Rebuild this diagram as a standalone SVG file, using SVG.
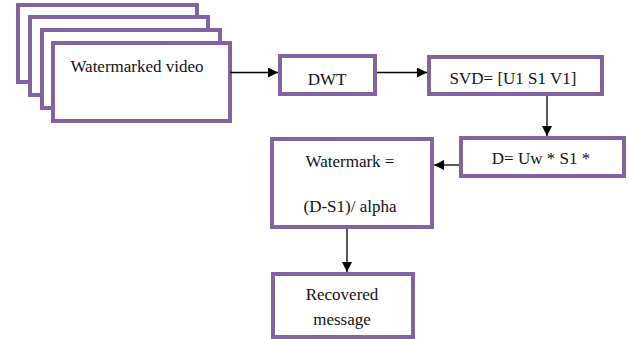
<svg xmlns="http://www.w3.org/2000/svg" width="628" height="339" viewBox="0 0 628 339">
  <defs>
    <marker id="arrow" viewBox="0 0 10 10" refX="10" refY="5" markerWidth="10" markerHeight="10" markerUnits="userSpaceOnUse" orient="auto">
      <path d="M0,0 L10,5 L0,10 z" fill="#000"/>
    </marker>
  </defs>
  <style>
    .box { fill: #fff; stroke: #8064A2; stroke-width: 4; }
    .lbl { font-family: "Liberation Serif", "Times New Roman", serif; font-size: 17px; fill: #111; text-anchor: middle; }
    .con { stroke: #000; stroke-width: 1.3; fill: none; marker-end: url(#arrow); }
  </style>

  <!-- stacked frames of the input video -->
  <g id="video">
    <rect class="box" x="18" y="5" width="179" height="77"/>
    <rect class="box" x="30" y="17" width="178" height="78"/>
    <rect class="box" x="42" y="30" width="178" height="78"/>
    <rect class="box" x="53" y="43" width="177" height="78"/>
    <text class="lbl" x="137" y="72">Watermarked video</text>
  </g>

  <g id="dwt">
    <rect class="box" x="280" y="56" width="95" height="38"/>
    <text class="lbl" x="327" y="85">DWT</text>
  </g>

  <g id="svd">
    <rect class="box" x="429" y="57" width="173" height="37"/>
    <text class="lbl" x="513" y="84">SVD= [U1 S1 V1]</text>
  </g>

  <g id="dcalc">
    <rect class="box" x="461" y="138" width="163" height="38"/>
    <text class="lbl" x="541" y="164">D= Uw * S1 *</text>
  </g>

  <g id="extract">
    <rect class="box" x="272" y="139" width="160" height="88"/>
    <text class="lbl" x="350" y="167">Watermark =</text>
    <text class="lbl" x="350" y="212">(D-S1)/ alpha</text>
  </g>

  <g id="recovered">
    <rect class="box" x="273" y="274" width="140" height="63"/>
    <text class="lbl" x="342" y="300">Recovered</text>
    <text class="lbl" x="342" y="325">message</text>
  </g>

  <g id="connectors">
    <line class="con" x1="230" y1="72.5" x2="278" y2="72.5"/>
    <line class="con" x1="377" y1="72.5" x2="427" y2="72.5"/>
    <line class="con" x1="547" y1="96" x2="547" y2="136"/>
    <line class="con" x1="459" y1="165" x2="434" y2="165"/>
    <line class="con" x1="347" y1="229" x2="347" y2="272"/>
  </g>
</svg>
